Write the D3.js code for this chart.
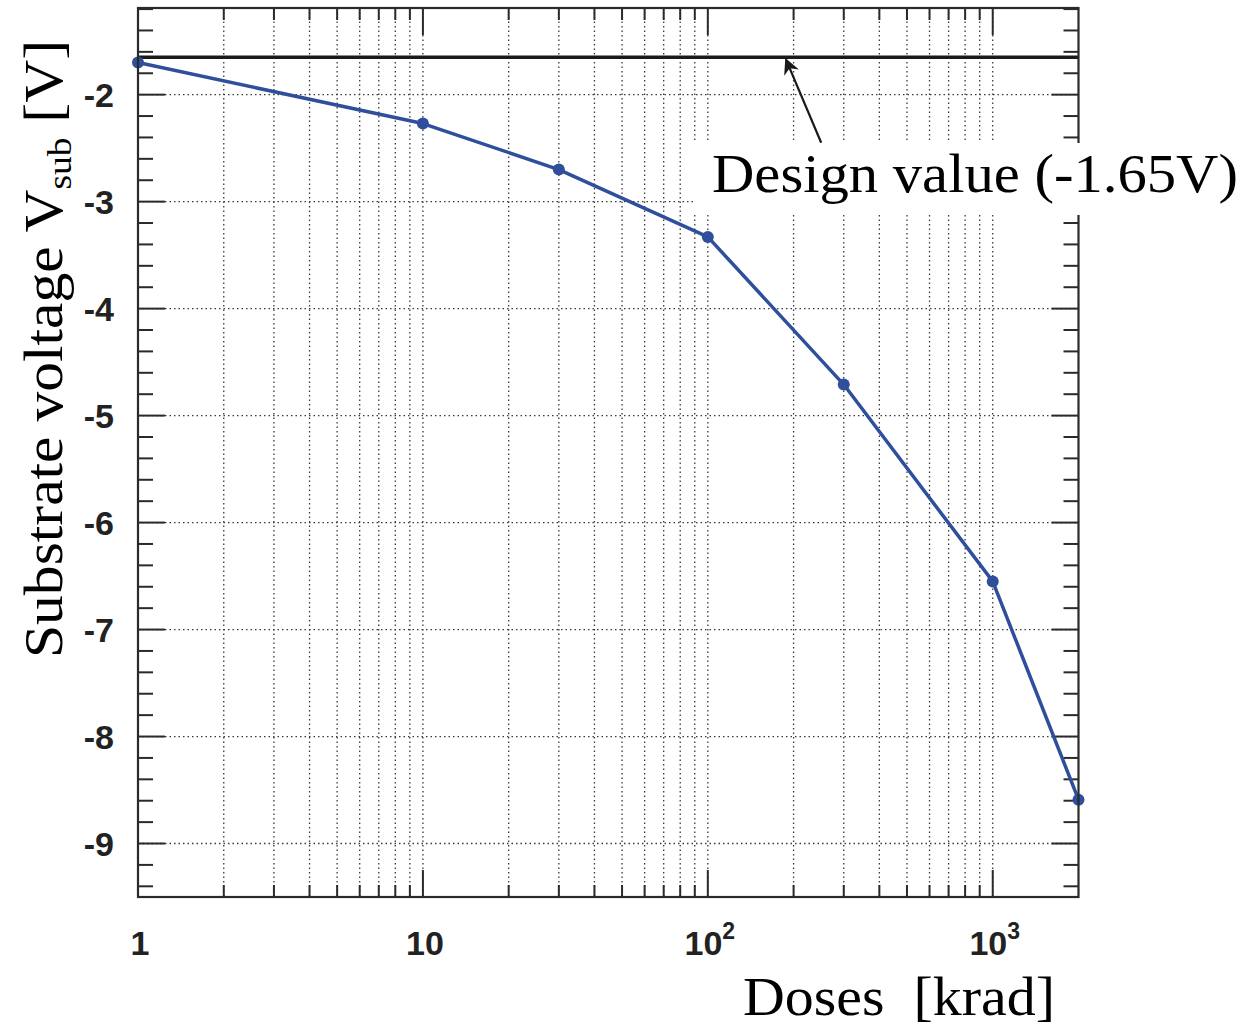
<!DOCTYPE html>
<html>
<head>
<meta charset="utf-8">
<script src="https://cdn.jsdelivr.net/npm/d3@7"></script>
<style>
  html, body { margin: 0; padding: 0; background: #fff; }
  svg { display: block; }
</style>
</head>
<body>
<svg id="chart" width="1244" height="1029"></svg>
<script>
// ---- data ----
const doses = [1, 10, 30, 100, 300, 1000, 2000];           // krad
const vsub  = [-1.70, -2.27, -2.70, -3.33, -4.71, -6.55, -8.59]; // V
const designValue = -1.65;
const xMajorTicks = [1, 10, 100, 1000];
const xMajorLabels = [["1", ""], ["10", ""], ["10", "2"], ["10", "3"]];
const yMajorTicks = [-2, -3, -4, -5, -6, -7, -8, -9];
const yMajorLabels = ["-2", "-3", "-4", "-5", "-6", "-7", "-8", "-9"];
const xDomain = [1, 2000];
const yDomain = [-9.5, -1.19];
const annotationText = "Design value (-1.65V)";
const arrowTip = [188, -1.67];
const arrowTail = [250, -2.45];

// ---- layout ----
const L = 138, R = 1078.5, T = 8, B = 897;
const svg = d3.select("#chart");
const x = d3.scaleLog().domain(xDomain).range([L, R]);
const y = d3.scaleLinear().domain(yDomain).range([B, T]);

const gridColor = "#3a3a3a";
const axisColor = "#2a2a2a";
const lineColor = "#2f4f9c";

// grid
const xMinor = x.ticks().filter(v => v > xDomain[0] && v < xDomain[1]);
svg.append("g").selectAll("line").data(xMinor).join("line")
  .attr("x1", d => x(d)).attr("x2", d => x(d))
  .attr("y1", T).attr("y2", B)
  .attr("stroke", gridColor).attr("stroke-width", 1.3)
  .attr("stroke-dasharray", "1.5,3");
svg.append("g").selectAll("line").data(yMajorTicks).join("line")
  .attr("x1", L).attr("x2", R)
  .attr("y1", d => y(d)).attr("y2", d => y(d))
  .attr("stroke", gridColor).attr("stroke-width", 1.3)
  .attr("stroke-dasharray", "1.5,3");

// ticks
const yMinor = y.ticks(40);
const yMajorSet = new Set(yMajorTicks.map(v => v.toFixed(1)));
const tickG = svg.append("g").attr("stroke", axisColor).attr("stroke-width", 2);
yMinor.forEach(v => {
  const len = yMajorSet.has(v.toFixed(1)) ? 27 : 15;
  tickG.append("line").attr("x1", L).attr("x2", L + len).attr("y1", y(v)).attr("y2", y(v));
  tickG.append("line").attr("x1", R).attr("x2", R - len).attr("y1", y(v)).attr("y2", y(v));
});
xMinor.forEach(v => {
  const isMajor = xMajorTicks.includes(v);
  const len = isMajor ? 27 : 12;
  tickG.append("line").attr("x1", x(v)).attr("x2", x(v)).attr("y1", B).attr("y2", B - len);
  tickG.append("line").attr("x1", x(v)).attr("x2", x(v)).attr("y1", T).attr("y2", T + len);
});

// design value line
svg.append("line")
  .attr("x1", L).attr("x2", R)
  .attr("y1", y(designValue)).attr("y2", y(designValue))
  .attr("stroke", "#1a1a1a").attr("stroke-width", 3.4);

// data line
svg.append("path")
  .datum(doses.map((d, i) => [d, vsub[i]]))
  .attr("fill", "none").attr("stroke", lineColor).attr("stroke-width", 3.5)
  .attr("stroke-linejoin", "round")
  .attr("d", d3.line().x(d => x(d[0])).y(d => y(d[1])));
svg.append("g").selectAll("circle").data(doses).join("circle")
  .attr("cx", d => x(d)).attr("cy", (d, i) => y(vsub[i]))
  .attr("r", 6).attr("fill", lineColor);

// frame
svg.append("rect").attr("x", L).attr("y", T).attr("width", R - L).attr("height", B - T)
  .attr("fill", "none").attr("stroke", axisColor).attr("stroke-width", 2.2);

// arrow
svg.append("defs").append("marker")
  .attr("id", "ah").attr("viewBox", "0 0 10 10").attr("refX", 9).attr("refY", 5)
  .attr("markerWidth", 9).attr("markerHeight", 9).attr("markerUnits", "userSpaceOnUse")
  .attr("orient", "auto")
  .append("path").attr("d", "M0,0 L10,5 L0,10 L3,5 Z").attr("fill", "#1a1a1a");
svg.append("line")
  .attr("x1", x(arrowTail[0])).attr("y1", y(arrowTail[1]))
  .attr("x2", x(arrowTip[0])).attr("y2", y(arrowTip[1]))
  .attr("stroke", "#1a1a1a").attr("stroke-width", 2.2)
  .attr("marker-end", "url(#ah)");
svg.select("#ah").attr("markerWidth", 16).attr("markerHeight", 16);

// annotation box + text
svg.append("rect").attr("x", 694).attr("y", 143).attr("width", 550).attr("height", 72)
  .attr("fill", "#fff");
svg.append("text").attr("x", 712).attr("y", 192)
  .attr("font-family", "Liberation Serif, Times New Roman, serif")
  .attr("font-size", 54).attr("fill", "#000")
  .attr("textLength", 526).attr("lengthAdjust", "spacingAndGlyphs")
  .text(annotationText);

// y tick labels
svg.append("g").selectAll("text").data(yMajorTicks).join("text")
  .attr("x", 114).attr("y", d => y(d)).attr("dy", "0.36em")
  .attr("text-anchor", "end")
  .attr("font-family", "Liberation Sans, Arial, sans-serif").attr("font-weight", "bold")
  .attr("font-size", 34).attr("fill", "#222")
  .text((d, i) => yMajorLabels[i]);

// x tick labels
const xl = svg.append("g");
xMajorTicks.forEach((v, i) => {
  const [base, exp] = xMajorLabels[i];
  const t = xl.append("text")
    .attr("x", x(v) + 2).attr("y", 955)
    .attr("text-anchor", "middle")
    .attr("font-family", "Liberation Sans, Arial, sans-serif").attr("font-weight", "bold")
    .attr("font-size", 34).attr("fill", "#222");
  t.append("tspan").text(base);
  if (exp) t.append("tspan").attr("dy", -16).attr("font-size", 23).text(exp);
});

// axis titles
svg.append("text").attr("x", 743).attr("y", 1015)
  .attr("font-family", "Liberation Serif, Times New Roman, serif")
  .attr("font-size", 54).attr("fill", "#000")
  .attr("textLength", 312).attr("lengthAdjust", "spacingAndGlyphs")
  .attr("xml:space", "preserve")
  .text("Doses  [krad]");

const yt = svg.append("text")
  .attr("transform", "translate(62,658) rotate(-90)")
  .attr("font-family", "Liberation Serif, Times New Roman, serif")
  .attr("font-size", 54).attr("fill", "#000")
  .attr("textLength", 618).attr("lengthAdjust", "spacingAndGlyphs");
yt.append("tspan").text("Substrate voltage V");
yt.append("tspan").attr("font-size", 34).attr("dy", 9).text("sub");
yt.append("tspan").attr("dy", -9).text(" [V]");
</script>
</body>
</html>
